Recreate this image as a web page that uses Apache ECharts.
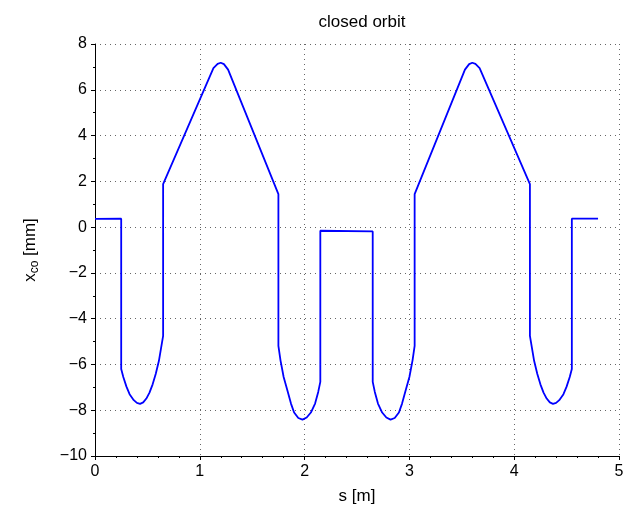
<!DOCTYPE html>
<html>
<head>
<meta charset="utf-8">
<script src="https://cdn.jsdelivr.net/npm/echarts@6/dist/echarts.min.js"></script>
<style>
  html, body { margin: 0; padding: 0; background: #fff; }
  #orbitChart { width: 631px; height: 515px; }
</style>
</head>
<body>
<div id="orbitChart"></div>
<script>
// s position along the cell [m]
var sPos = [
  0, 0.25, 0.25, 0.27, 0.30, 0.33, 0.37, 0.40, 0.43, 0.46, 0.49, 0.52, 0.55, 0.58, 0.61, 0.65,
  0.65, 1.13, 1.17, 1.20, 1.23, 1.27, 1.75,
  1.75, 1.77, 1.80, 1.84, 1.87, 1.90, 1.94, 1.98, 2.02, 2.06, 2.10, 2.13, 2.15,
  2.15, 2.65,
  2.65, 2.67, 2.70, 2.74, 2.78, 2.82, 2.86, 2.90, 2.93, 2.96, 3.00, 3.03, 3.05,
  3.05, 3.53, 3.57, 3.60, 3.63, 3.67, 4.15,
  4.15, 4.19, 4.22, 4.25, 4.28, 4.31, 4.34, 4.37, 4.40, 4.43, 4.47, 4.50, 4.53, 4.55,
  4.55, 4.80
];
// closed orbit x_co [mm]
var xCo = [
  0.36, 0.37, -6.2, -6.55, -6.97, -7.3, -7.56, -7.68, -7.72, -7.66, -7.49, -7.23, -6.87, -6.41, -5.84, -4.75,
  1.88, 6.95, 7.13, 7.18, 7.12, 6.88, 1.44,
  -5.19, -5.82, -6.55, -7.2, -7.71, -8.1, -8.34, -8.41, -8.32, -8.1, -7.71, -7.2, -6.76,
  -0.16, -0.19,
  -6.76, -7.2, -7.71, -8.1, -8.32, -8.41, -8.34, -8.1, -7.71, -7.2, -6.55, -5.82, -5.19,
  1.44, 6.88, 7.12, 7.18, 7.13, 6.95, 1.88,
  -4.75, -5.84, -6.41, -6.87, -7.23, -7.49, -7.66, -7.72, -7.68, -7.56, -7.3, -6.97, -6.55, -6.2,
  0.37, 0.37
];
var xTicks = [0, 5, 1];    // min, max, interval
var yTicks = [-10, 8, 2];

var font = "'Liberation Sans', Arial, sans-serif";
var orbit = sPos.map(function (s, i) { return [s, xCo[i]]; });

function minus(v) {
  return String(v).replace('-', '\u2212');
}

var chart = echarts.init(document.getElementById('orbitChart'));
chart.setOption({
  animation: false,
  backgroundColor: '#fff',
  title: {
    text: 'closed orbit',
    left: 357,
    top: 9,
    textAlign: 'center',
    textStyle: { fontFamily: font, fontSize: 17, fontWeight: 'normal', color: '#000' }
  },
  grid: { left: 95, right: 12, top: 44, bottom: 59 },
  xAxis: {
    type: 'value',
    min: xTicks[0],
    max: xTicks[1],
    interval: xTicks[2],
    name: 's [m]',
    nameLocation: 'middle',
    nameGap: 32,
    nameTextStyle: { fontFamily: font, fontSize: 17, color: '#000' },
    axisLine: { onZero: false, lineStyle: { color: '#000', width: 1 } },
    axisTick: { length: 4, lineStyle: { color: '#000' } },
    minorTick: { show: true, splitNumber: 5, length: 2, lineStyle: { color: '#000' } },
    splitLine: { show: true, lineStyle: { color: '#666', type: [1, 4], width: 1 } },
    axisLabel: { fontFamily: font, fontSize: 16, color: '#000', margin: 8, formatter: minus }
  },
  yAxis: {
    type: 'value',
    min: yTicks[0],
    max: yTicks[1],
    interval: yTicks[2],
    name: '{a|x}{b|co}{a| [mm]}',
    nameLocation: 'middle',
    nameGap: 54,
    nameTextStyle: {
      fontFamily: font,
      color: '#000',
      rich: {
        a: { fontFamily: font, fontSize: 17, color: '#000', lineHeight: 22 },
        b: { fontFamily: font, fontSize: 12, color: '#000', lineHeight: 12, verticalAlign: 'bottom', padding: [6, 0, 0, 0] }
      }
    },
    axisLine: { show: true, onZero: false, lineStyle: { color: '#000', width: 1 } },
    axisTick: { show: true, length: 4, lineStyle: { color: '#000' } },
    minorTick: { show: true, splitNumber: 2, length: 2, lineStyle: { color: '#000' } },
    splitLine: { show: true, lineStyle: { color: '#666', type: [1, 4], width: 1 } },
    axisLabel: { fontFamily: font, fontSize: 16, color: '#000', margin: 8, formatter: minus }
  },
  series: [
    {
      type: 'line',
      data: orbit,
      showSymbol: false,
      lineStyle: { color: '#0000ff', width: 1.8 },
      z: 5
    }
  ]
});
</script>
</body>
</html>
